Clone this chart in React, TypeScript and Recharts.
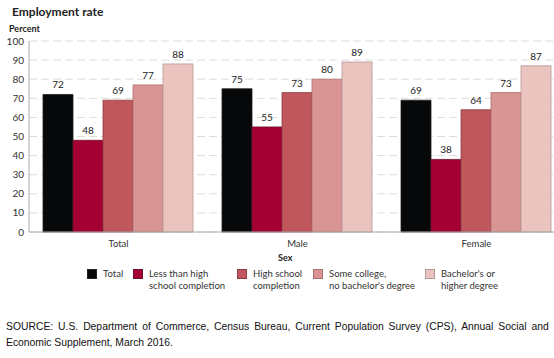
import { BarChart, Bar, XAxis, YAxis, CartesianGrid, LabelList } from 'recharts';

const categories = ['Total', 'Male', 'Female'];
const totalRate = [72, 75, 69];
const lessThanHighSchool = [48, 55, 38];
const highSchool = [69, 73, 64];
const someCollege = [77, 80, 73];
const bachelors = [88, 89, 87];
const yTicks = [0, 10, 20, 30, 40, 50, 60, 70, 80, 90, 100];

const SERIES = [
  { key: 'total', label: ['Total'], color: '#070809', stroke: '#222' },
  { key: 'less', label: ['Less than high', 'school completion'], color: '#a50034', stroke: '#6e1028' },
  { key: 'hs', label: ['High school', 'completion'], color: '#c0575d', stroke: '#8e3c42' },
  { key: 'some', label: ['Some college,', "no bachelor's degree"], color: '#d99494', stroke: '#ad6e6e' },
  { key: 'ba', label: ["Bachelor's or", 'higher degree'], color: '#ebc4c0', stroke: '#b89994' },
];

const data = categories.map((name, i) => ({
  name,
  total: totalRate[i],
  less: lessThanHighSchool[i],
  hs: highSchool[i],
  some: someCollege[i],
  ba: bachelors[i],
}));

const FONT = 'Lato, "DejaVu Sans", sans-serif';
const LEGEND_X = [87, 133, 237, 313, 425];

export default function App() {
  return (
    <div style={{ position: 'absolute', left: 0, top: 0, width: 554, height: 358, background: '#fff', fontFamily: FONT, overflow: 'hidden' }}>
      <div style={{ position: 'absolute', left: 12, top: 4, fontSize: 12, fontWeight: 700, color: '#222' }}>
        Employment rate
      </div>
      <div style={{ position: 'absolute', left: 9, top: 23, fontSize: 9, fontWeight: 700, color: '#222' }}>
        Percent
      </div>
      {/* plot runs past the right edge: the reference image is cropped there */}
      <div style={{ position: 'absolute', left: 0, top: 0 }}>
        <BarChart
          width={566}
          height={250}
          data={data}
          margin={{ top: 41, right: 0, bottom: 2, left: 0 }}
          barCategoryGap={14}
          barGap={0}
        >
          <CartesianGrid vertical={false} stroke="#dcdcdc" strokeDasharray="8 4" />
          <XAxis
            dataKey="name"
            height={16}
            tickLine={false}
            tickSize={0}
            axisLine={{ stroke: '#aaa' }}
            tick={{ fontSize: 9.5, fill: '#333', fontFamily: FONT }}
            tickMargin={8}
          />
          <YAxis
            width={29}
            domain={[0, 100]}
            ticks={yTicks}
            interval={0}
            tickLine={false}
            tickSize={0}
            axisLine={{ stroke: '#aaa' }}
            tick={{ fontSize: 10, fill: '#333', fontFamily: FONT }}
            tickMargin={5}
          />
          {SERIES.map(s => (
            <Bar key={s.key} dataKey={s.key} fill={s.color} stroke={s.stroke} strokeWidth={0.8} isAnimationActive={false}>
              <LabelList dataKey={s.key} position="top" offset={6} style={{ fontSize: 10, fill: '#222', fontFamily: FONT }} />
            </Bar>
          ))}
        </BarChart>
      </div>
      <div style={{ position: 'absolute', left: 278, top: 252, fontSize: 9, fontWeight: 700, color: '#222' }}>Sex</div>
      {SERIES.map((s, i) => (
        <div key={s.key} style={{ position: 'absolute', left: LEGEND_X[i], top: 268, display: 'flex', alignItems: 'flex-start' }}>
          <div style={{ width: 10, height: 10, marginTop: 1, background: s.color, border: `1px solid ${s.stroke}`, boxSizing: 'border-box' }} />
          <div style={{ marginLeft: 6, fontSize: 9.5, lineHeight: '12px', color: '#333' }}>
            {s.label.map(l => <div key={l}>{l}</div>)}
          </div>
        </div>
      ))}
      <div
        style={{
          position: 'absolute',
          left: 6,
          top: 318,
          width: 603,
          transform: 'scaleX(0.9)',
          transformOrigin: 'left top',
          fontFamily: '"Liberation Sans", Arial, sans-serif',
          fontSize: 11.5,
          lineHeight: '16px',
          color: '#111',
          textAlign: 'justify',
          textAlignLast: 'left',
        }}
      >
        SOURCE: U.S. Department of Commerce, Census Bureau, Current Population Survey (CPS), Annual Social and Economic Supplement, March 2016.
      </div>
    </div>
  );
}
